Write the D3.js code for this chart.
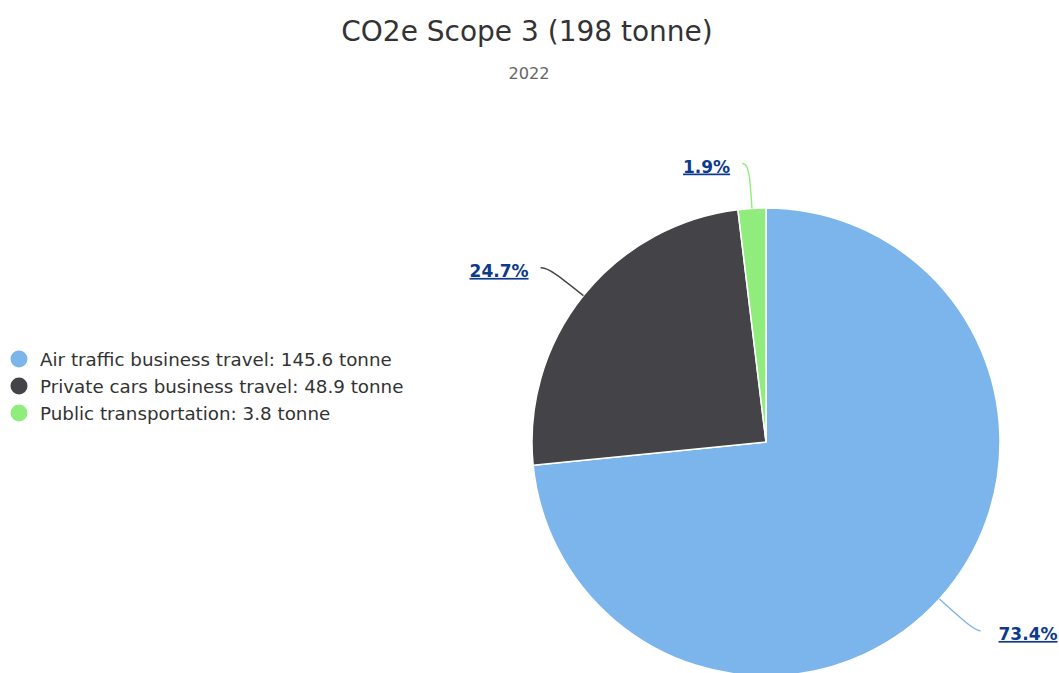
<!DOCTYPE html>
<html><head><meta charset="utf-8">
<script src="https://cdn.jsdelivr.net/npm/d3@7"></script>
<style>html,body{margin:0;padding:0;background:#fff;}svg{display:block;font-family:"DejaVu Sans",sans-serif;}</style>
</head><body>
<svg id="c" width="1059" height="673"></svg>
<script>
const categories = ["Air traffic business travel", "Private cars business travel", "Public transportation"];
const values = [145.6, 48.9, 3.8];
const colors = ["#7cb5ec", "#434348", "#90ed7d"];
const percentLabels = ["73.4%", "24.7%", "1.9%"];
const titleText = "CO2e Scope 3 (198 tonne)";
const subtitleText = "2022";

const svg = d3.select("#c");
svg.append("text").attr("x", 527).attr("y", 41).attr("text-anchor", "middle")
  .attr("font-size", 28).attr("fill", "#333").text(titleText);
svg.append("text").attr("x", 529).attr("y", 79).attr("text-anchor", "middle")
  .attr("font-size", 16.2).attr("fill", "#666").text(subtitleText);

const cx = 766, cy = 442, R = 234;
const data = categories.map((c, i) => ({ name: c, value: values[i], color: colors[i], pct: percentLabels[i] }));
const pie = d3.pie().value(d => d.value).sort(null);
const arcs = pie(data);
const arc = d3.arc().innerRadius(0).outerRadius(R);
const g = svg.append("g").attr("transform", `translate(${cx},${cy})`);
g.selectAll("path.slice").data(arcs).join("path").attr("class", "slice")
  .attr("d", arc).attr("fill", d => d.data.color).attr("stroke", "#fff").attr("stroke-width", 1.5)
  .attr("stroke-linejoin", "round");

const pt = (a, r) => [Math.sin(a) * r, -Math.cos(a) * r];
arcs.forEach(d => {
  const a = (d.startAngle + d.endAngle) / 2;
  const right = Math.sin(a) > 0;
  const s = right ? 1 : -1;
  const p0 = pt(a, R);
  const p1 = pt(a, R + 30);
  const p2 = pt(a, R + 46);
  const end = [p2[0] + s * 7, p2[1] + 1];
  const path = d3.path();
  path.moveTo(p0[0], p0[1]);
  path.bezierCurveTo(p1[0], p1[1], p2[0], p2[1], end[0], end[1]);
  g.append("path").attr("d", path.toString()).attr("fill", "none")
    .attr("stroke", d.data.color).attr("stroke-width", 1.4);
  g.append("text").attr("x", end[0] + s * (right ? 18 : 12)).attr("y", end[1] + 9)
    .attr("text-anchor", right ? "start" : "end")
    .attr("font-size", 17).attr("font-weight", "bold").attr("fill", "#0d3a8c")
    .attr("text-decoration", "underline").text(d.data.pct);
});

const lg = svg.append("g");
data.forEach((d, i) => {
  const y = 359 + i * 27;
  lg.append("circle").attr("cx", 19).attr("cy", y).attr("r", 8.5).attr("fill", d.color);
  lg.append("text").attr("x", 40).attr("y", y + 6.5).attr("font-size", 18.3).attr("fill", "#333")
    .text(`${d.name}: ${d.value} tonne`);
});
</script>
</body></html>
